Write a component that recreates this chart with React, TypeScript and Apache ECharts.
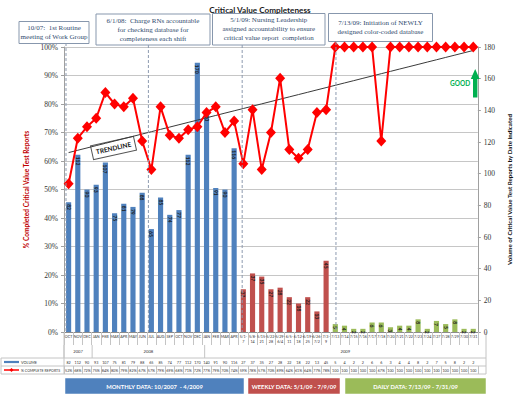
import React, { useEffect, useRef } from 'react';
import * as echarts from 'echarts';

const monthLabels = ['OCT', 'NOV', 'DEC', 'JAN', 'FEB', 'MAR', 'APR', 'MAY', 'JUN', 'JUL', 'AUG', 'SEP', 'OCT', 'NOV', 'DEC', 'JAN', 'FEB', 'MAR', 'APR'];
const weekLabels = ['5/1-\n7', '5/8-\n14', '5/15-\n21', '5/22-\n28', '5/29-\n6/4', '6/5-\n11', '6/12-\n18', '6/19-\n25', '6/26-\n7/2', '7/3-\n9'];
const dayLabels = ['7/13', '7/14', '7/15', '7/16', '7/17', '7/18', '7/20', '7/21', '7/22', '7/23', '7/24', '7/27', '7/28', '7/29', '7/30', '7/31'];

const monthlyVolume = [82, 112, 90, 93, 107, 75, 81, 79, 88, 65, 85, 74, 77, 112, 170, 140, 91, 90, 116];
const weeklyVolume = [27, 37, 35, 27, 28, 22, 18, 22, 13, 45];
const dailyVolume = [5, 4, 2, 2, 6, 6, 3, 4, 4, 8, 2, 7, 5, 8, 2, 2];

const monthlyPct = [52, 68, 72, 75, 84, 80, 79, 82, 67, 57, 79, 69, 68, 71, 72, 77, 79, 70, 74];
const weeklyPct = [59, 78, 57, 70, 89, 64, 61, 64, 77, 78];
const dailyPct = [100, 100, 100, 100, 100, 67, 100, 100, 100, 100, 100, 100, 100, 100, 100, 100];

const yearLabels = ['2007', '2008', '2009'];
const yearStarts = [0, 3, 15];

const leftTicks = [0, 10, 20, 30, 40, 50, 60, 70, 80, 90, 100];
const rightTicks = [0, 20, 40, 60, 80, 100, 120, 140, 160, 180];

const BLUE = '#4f81bd';
const REDBAR = '#c0504d';
const GREEN = '#9bbb59';

const categories = [...monthLabels, ...weekLabels, ...dayLabels];
const volumes = [...monthlyVolume, ...weeklyVolume, ...dailyVolume];
const pcts = [...monthlyPct, ...weeklyPct, ...dailyPct];

const L = 64, R = 486, T = 47, B = 332;
const N = categories.length;
const cw = (R - L) / N;
const bx = (k: number) => L + cw * k;

function linearTrend(ys: number[]) {
  const n = ys.length;
  let sx = 0, sy = 0, sxx = 0, sxy = 0;
  ys.forEach((y, x) => { sx += x; sy += y; sxx += x * x; sxy += x * y; });
  const b = (n * sxy - sx * sy) / (n * sxx - sx * sx);
  const a = (sy - b * sx) / n;
  return ys.map((_, x) => +(a + b * x).toFixed(2));
}

const SERIF = 'Liberation Serif';
const SANS = 'Lato';
const BOXTEXT = '#2f4a6d';

function noteBox(x: number, y: number, w: number, h: number, text: string) {
  return {
    type: 'group', x, y, z: 100,
    children: [
      { type: 'rect', shape: { x: 0, y: 0, width: w, height: h }, style: { fill: '#fff', stroke: '#8797ad', lineWidth: 1 } },
      { type: 'text', x: w / 2, y: h / 2, style: { text, fill: BOXTEXT, font: `7px "${SERIF}"`, textAlign: 'center', textVerticalAlign: 'middle', lineHeight: 9 } },
    ],
  };
}

export default function App() {
  const ref = useRef<HTMLDivElement>(null);
  useEffect(() => {
    if (!ref.current) return;
    const chart = echarts.init(ref.current, undefined, { renderer: 'svg' });
    const trend = linearTrend(pcts);
    const barData = [
      ...monthlyVolume.map((v) => ({ value: v, itemStyle: { color: BLUE } })),
      ...weeklyVolume.map((v) => ({ value: v, itemStyle: { color: REDBAR } })),
      ...dailyVolume.map((v) => ({ value: v, itemStyle: { color: GREEN } })),
    ];
    const tableAxisLabel = { interval: 0, fontSize: 3.7, margin: 2.3, color: '#333', fontFamily: SANS };
    const tickStyle = { color: '#c4c4c4', width: 1 };

    const graphic: any[] = [];
    [[66, 43], [bx(9), 45], [bx(19), 45], [bx(29), 42]].forEach(([x, y0]) => {
      graphic.push({ type: 'line', z: 50, shape: { x1: x, y1: y0, x2: x, y2: B }, style: { stroke: '#8d9bb0', lineWidth: 1, lineDash: [3, 2] } });
    });
    graphic.push(noteBox(19, 21.5, 70, 22, '10/07:  1st Routine\nmeeting of Work Group'));
    graphic.push(noteBox(96, 14, 114, 31, '6/1/08:  Charge RNs accountable\nfor checking database for\ncompleteness each shift'));
    graphic.push(noteBox(212.5, 13.5, 112.5, 31.5, '5/1/09: Nursing Leadership\nassigned accountability to ensure\ncritical value report  completion'));
    graphic.push(noteBox(328.5, 13.5, 104, 28, '7/13/09: Initiation of NEWLY\ndesigned color-coded database'));
    graphic.push({
      type: 'group', x: 113.5, y: 148, rotation: 0.22, z: 100,
      children: [
        { type: 'rect', shape: { x: -22, y: -7, width: 44, height: 14 }, style: { fill: '#fff', stroke: '#555', lineWidth: 1 } },
        { type: 'text', x: 0, y: 0, style: { text: 'TRENDLINE', fill: '#111', font: `bold 6.5px "${SANS}"`, textAlign: 'center', textVerticalAlign: 'middle' } },
      ],
    });
    graphic.push({ type: 'text', x: 460, y: 83.5, z: 100, style: { text: 'GOOD', fill: '#00b050', font: `bold 6.5px "${SANS}"`, textAlign: 'center', textVerticalAlign: 'middle' } });
    graphic.push({ type: 'polygon', z: 100, shape: { points: [[470.8, 79], [475.2, 69], [479.6, 79], [477.4, 79], [477.4, 97.5], [473, 97.5], [473, 79]] }, style: { fill: '#00b050' } });
    yearLabels.forEach((t, i) => {
      const s = yearStarts[i];
      const e = i + 1 < yearStarts.length ? yearStarts[i + 1] : N;
      graphic.push({ type: 'text', x: bx((s + e) / 2), y: 351, style: { text: t, fill: '#333', font: `4.2px "${SANS}"`, textAlign: 'center', textVerticalAlign: 'middle' } });
      graphic.push({ type: 'line', shape: { x1: bx(s), y1: 345, x2: bx(s), y2: 358 }, style: { stroke: '#c4c4c4', lineWidth: 1 } });
    });
    [358, 366, 374].forEach((y) => graphic.push({ type: 'line', shape: { x1: 1, y1: y, x2: R, y2: y }, style: { stroke: '#c4c4c4', lineWidth: 1 } }));
    graphic.push({ type: 'line', shape: { x1: 1, y1: 358, x2: 1, y2: 374 }, style: { stroke: '#c4c4c4', lineWidth: 1 } });
    graphic.push({ type: 'line', shape: { x1: L, y1: B, x2: L, y2: 374 }, style: { stroke: '#c4c4c4', lineWidth: 1 } });
    graphic.push({ type: 'line', shape: { x1: R, y1: B, x2: R, y2: 374 }, style: { stroke: '#c4c4c4', lineWidth: 1 } });
    graphic.push({ type: 'line', shape: { x1: 4, y1: 362, x2: 19, y2: 362 }, style: { stroke: BLUE, lineWidth: 2.2 } });
    graphic.push({ type: 'text', x: 21, y: 362, style: { text: 'VOLUME', fill: '#333', font: `3.8px "${SANS}"`, textVerticalAlign: 'middle' } });
    graphic.push({ type: 'line', shape: { x1: 4, y1: 370, x2: 19, y2: 370 }, style: { stroke: '#ff0000', lineWidth: 1.5 } });
    graphic.push({ type: 'polygon', shape: { points: [[11.5, 368], [13.5, 370], [11.5, 372], [9.5, 370]] }, style: { fill: '#ff0000' } });
    graphic.push({ type: 'text', x: 21, y: 370, style: { text: '% COMPLETE REPORTS', fill: '#333', font: `3.6px "${SANS}"`, textVerticalAlign: 'middle' } });
    [
      [65, 179, BLUE, 'MONTHLY DATA: 10/2007  - 4/2009'],
      [248, 92, REDBAR, 'WEEKLY DATA: 5/1/09 - 7/9/09'],
      [345, 141, GREEN, 'DAILY DATA: 7/13/09 - 7/31/09'],
    ].forEach(([x, w, c, t]: any) => {
      graphic.push({
        type: 'group', x, y: 378,
        children: [
          { type: 'rect', shape: { x: 0, y: 0, width: w, height: 16 }, style: { fill: c, stroke: '#ffffff', lineWidth: 0.5 } },
          { type: 'text', x: w / 2, y: 8, style: { text: t, fill: '#fff', font: `bold 5.8px "${SANS}"`, textAlign: 'center', textVerticalAlign: 'middle' } },
        ],
      });
    });

    chart.setOption({
      animation: false,
      backgroundColor: '#ffffff',
      title: {
        text: 'Critical Value Completeness', left: 'center', top: 1,
        textStyle: { fontFamily: SANS, fontWeight: 'bold', fontSize: 8.2, color: '#1a1a1a' },
      },
      grid: { left: L, right: 520 - R, top: T, bottom: 398 - B },
      xAxis: [
        {
          type: 'category', data: categories, position: 'bottom',
          axisLine: { lineStyle: { color: '#8c8c8c' } },
          axisTick: { show: true, interval: 0, length: 13, lineStyle: tickStyle },
          axisLabel: { interval: 0, fontSize: 3.7, margin: 2.5, color: '#333', lineHeight: 4.6, fontFamily: SANS },
        },
        {
          type: 'category', data: categories, position: 'bottom', offset: 26,
          axisLine: { show: false },
          axisTick: { show: true, interval: 0, length: 8, lineStyle: tickStyle },
          axisLabel: { ...tableAxisLabel, formatter: (_v: string, i: number) => String(volumes[i]) },
        },
        {
          type: 'category', data: categories, position: 'bottom', offset: 34,
          axisLine: { show: false },
          axisTick: { show: true, interval: 0, length: 8, lineStyle: tickStyle },
          axisLabel: { ...tableAxisLabel, formatter: (_v: string, i: number) => (pcts[i] === 100 ? '100' : pcts[i] + '%') },
        },
      ],
      yAxis: [
        {
          type: 'value', min: leftTicks[0], max: leftTicks[leftTicks.length - 1], interval: 10, position: 'left',
          axisLine: { show: true, lineStyle: { color: '#a0a0a0' } },
          axisTick: { show: true, length: 3, lineStyle: { color: '#a0a0a0' } },
          axisLabel: { formatter: '{value}%', fontSize: 7.5, fontFamily: SERIF, color: '#333', margin: 6 },
          splitLine: { lineStyle: { color: '#c6c6c6', width: 1 } },
          name: '% Completed Critical Value Test Reports', nameLocation: 'middle', nameGap: 33, nameRotate: 90,
          nameTextStyle: { color: '#c00000', fontWeight: 'bold', fontSize: 6.6, fontFamily: SANS },
        },
        {
          type: 'value', min: rightTicks[0], max: rightTicks[rightTicks.length - 1], interval: 20, position: 'right',
          axisLine: { show: true, lineStyle: { color: '#a0a0a0' } },
          axisTick: { show: true, length: 3, lineStyle: { color: '#a0a0a0' } },
          axisLabel: { fontSize: 7.5, fontFamily: SERIF, color: '#333', margin: 6 },
          splitLine: { show: false },
          name: 'Volume of Critical Value Test Reports by Date Indicated', nameLocation: 'middle', nameGap: 26, nameRotate: 90,
          nameTextStyle: { color: '#111', fontWeight: 'bold', fontSize: 6.2, fontFamily: SANS },
        },
      ],
      series: [
        {
          type: 'bar', xAxisIndex: 0, yAxisIndex: 1, data: barData, barWidth: '56%', z: 2,
          label: {
            show: true, position: 'insideTop', rotate: -90, align: 'left', verticalAlign: 'middle', distance: 2,
            fontSize: 5, fontWeight: 'bold', color: '#1b1b1b', fontFamily: SANS,
          },
        },
        {
          type: 'line', xAxisIndex: 0, yAxisIndex: 0, data: trend, symbol: 'none', z: 3,
          lineStyle: { color: '#3a3a3a', width: 1 },
        },
        {
          type: 'line', xAxisIndex: 0, yAxisIndex: 0, data: pcts, z: 4,
          symbol: 'diamond', symbolSize: [10, 11],
          lineStyle: { color: '#ff0000', width: 2 },
          itemStyle: { color: '#ff0000' },
        },
      ],
      graphic,
    });
    return () => chart.dispose();
  }, []);
  return <div ref={ref} style={{ position: 'fixed', left: 0, top: 0, width: 520, height: 398, background: '#fff' }} />;
}
